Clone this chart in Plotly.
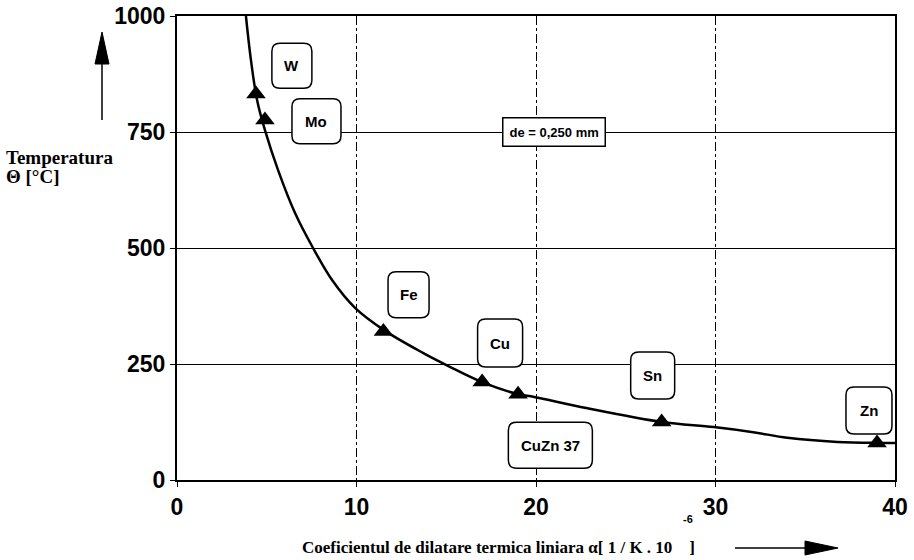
import plotly.graph_objects as go

# Measured materials: thermal expansion coefficient vs. temperature
materials = ["W", "Mo", "Fe", "Cu", "CuZn 37", "Sn", "Zn"]
alpha = [4.4, 4.9, 11.5, 17.0, 19.0, 27.0, 39.0]
temperature = [832, 776, 320, 211, 185, 125, 80]

# Fitted curve through the measurements
curve_alpha = [3.84, 4.12, 4.46, 4.90, 5.63, 6.57, 7.58, 8.64, 9.92, 11.53, 13.7,
               15.2, 17.0, 19.0, 19.9, 22.8, 27.0, 29.9, 32.1, 34.0, 36.8, 39.0, 40.0]
curve_temp = [1000, 905, 819, 754, 668, 576, 500, 431, 371, 323, 274,
              244, 211, 185, 179, 155, 125, 114, 103, 91, 82, 80, 80]

# Label box centres (data units) and sizes (pixels)
label_x = [6.4, 7.77, 12.9, 18.0, 20.8, 26.5, 38.55]
label_y = [893, 773, 399, 295, 75, 225, 150]
label_w = [40, 49, 41, 45, 84, 44, 46]
label_h = [45, 45, 46, 48, 46, 47, 47]

x_ticks = [0, 10, 20, 30, 40]
y_ticks = [0, 250, 500, 750, 1000]

W, H = 914, 560
L, R, T, B = 177, 19, 16, 80
PW, PH = W - L - R, H - T - B
XMAX, YMAX = 40, 1000
sx = PW / XMAX
sy = PH / YMAX


def rounded_box(cx, cy, w, h, r=8):
    """Rounded rectangle path in data coordinates, sized in pixels."""
    hw, hh = w / 2 / sx, h / 2 / sy
    rx, ry = r / sx, r / sy
    x0, x1 = cx - hw, cx + hw
    y0, y1 = cy - hh, cy + hh
    return (f"M {x0+rx},{y1} L {x1-rx},{y1} Q {x1},{y1} {x1},{y1-ry} "
            f"L {x1},{y0+ry} Q {x1},{y0} {x1-rx},{y0} L {x0+rx},{y0} "
            f"Q {x0},{y0} {x0},{y0+ry} L {x0},{y1-ry} Q {x0},{y1} {x0+rx},{y1} Z")


def px(x):
    return (x - L) / PW


def py(y):
    return (H - B - y) / PH


fig = go.Figure()

fig.add_trace(go.Scatter(
    x=curve_alpha, y=curve_temp, mode="lines",
    line=dict(color="black", width=2.5, shape="spline", smoothing=1.0),
    hoverinfo="skip", showlegend=False))

fig.add_trace(go.Scatter(
    x=alpha, y=temperature, mode="markers", text=materials,
    marker=dict(symbol="triangle-up", size=17, color="black"),
    showlegend=False))

shapes = []
annotations = []
for name, cx, cy, w, h in zip(materials, label_x, label_y, label_w, label_h):
    shapes.append(dict(type="path", path=rounded_box(cx, cy, w, h),
                       xref="x", yref="y", fillcolor="white",
                       line=dict(color="black", width=1.5), layer="above"))
    annotations.append(dict(x=cx, y=cy, xref="x", yref="y", text=f"<b>{name}</b>",
                            showarrow=False,
                            font=dict(family="Liberation Sans", size=15, color="black")))

# Wire diameter note
annotations.append(dict(x=21.0, y=750, xref="x", yref="y",
                        text="<b>de = 0,250 mm</b>", showarrow=False,
                        bgcolor="white", bordercolor="black", borderwidth=1.5,
                        borderpad=6,
                        font=dict(family="Liberation Sans", size=13, color="black")))

# Axis titles
annotations.append(dict(x=px(4), y=py(157), xref="paper", yref="paper",
                        xanchor="left", yanchor="middle", showarrow=False,
                        text="<b>Temperatura</b>",
                        font=dict(family="Liberation Serif", size=19, color="black")))
annotations.append(dict(x=px(4), y=py(177), xref="paper", yref="paper",
                        xanchor="left", yanchor="middle", showarrow=False,
                        text="<b>Θ [°C]</b>",
                        font=dict(family="Liberation Serif", size=19, color="black")))
annotations.append(dict(x=px(300), y=py(547), xref="paper", yref="paper",
                        xanchor="left", yanchor="middle", showarrow=False,
                        text="<b>Coeficientul de dilatare termica liniara α[ 1 / K . 10 &nbsp;&nbsp;&nbsp;]</b>",
                        font=dict(family="Liberation Serif", size=17, color="black")))
annotations.append(dict(x=px(688), y=py(519), xref="paper", yref="paper",
                        xanchor="center", yanchor="middle", showarrow=False,
                        text="<b>-6</b>",
                        font=dict(family="Liberation Sans", size=11, color="black")))

# Direction arrows beside the axis titles
shapes.append(dict(type="line", xref="paper", yref="paper",
                   x0=px(102), x1=px(102), y0=py(120), y1=py(60),
                   line=dict(color="black", width=1.5)))
shapes.append(dict(type="path", xref="paper", yref="paper",
                   path=f"M {px(102)},{py(32)} L {px(95)},{py(64)} L {px(109)},{py(64)} Z",
                   fillcolor="black", line=dict(color="black", width=1)))
shapes.append(dict(type="line", xref="paper", yref="paper",
                   x0=px(735), x1=px(808), y0=py(548), y1=py(548),
                   line=dict(color="black", width=1.5)))
shapes.append(dict(type="path", xref="paper", yref="paper",
                   path=f"M {px(838)},{py(548)} L {px(805)},{py(541)} L {px(805)},{py(555)} Z",
                   fillcolor="black", line=dict(color="black", width=1)))

axis_font = dict(family="Liberation Sans", size=23, color="black")

fig.update_layout(
    width=W, height=H,
    margin=dict(l=L, r=R, t=T, b=B, autoexpand=False),
    paper_bgcolor="white", plot_bgcolor="white",
    shapes=shapes, annotations=annotations,
    xaxis=dict(range=[0, XMAX], tickvals=x_ticks, ticktext=[f"<b>{v}</b>" for v in x_ticks],
               showgrid=True, gridcolor="black", gridwidth=1, griddash="dashdot",
               zeroline=False, showline=True, linecolor="black", linewidth=2, mirror=True,
               ticks="outside", ticklen=5, tickcolor="black", tickfont=axis_font,
               automargin=False),
    yaxis=dict(range=[0, YMAX], tickvals=y_ticks, ticktext=[f"<b>{v}</b>" for v in y_ticks],
               showgrid=True, gridcolor="black", gridwidth=1,
               zeroline=False, showline=True, linecolor="black", linewidth=2, mirror=True,
               ticks="outside", ticklen=5, tickcolor="black", tickfont=axis_font,
               automargin=False),
)

fig.write_html("out.html")
